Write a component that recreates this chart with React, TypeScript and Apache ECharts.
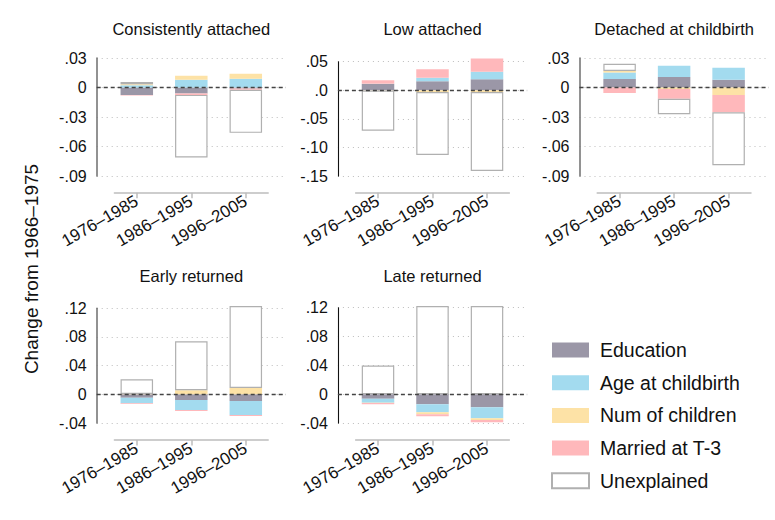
import React, { useEffect, useRef } from 'react';
import * as echarts from 'echarts';

// ---------------- DATA ----------------
const periods = ['1976–1985', '1986–1995', '1996–2005'];
const panelTitles = ['Consistently attached', 'Low attached', 'Detached at childbirth', 'Early returned', 'Late returned'];
const componentNames = ['Education', 'Age at childbirth', 'Num of children', 'Married at T-3', 'Unexplained'];

// values per panel (rows) and period (columns)
const education = [
  [-0.0075, -0.0061, -0.0010],
  [0.0110, 0.0157, 0.0192],
  [0.0086, 0.0108, 0.0078],
  [-0.0047, -0.0079, -0.0093],
  [-0.0065, -0.0139, -0.0180],
];
const ageAtChildbirth = [
  [0.0024, 0.0078, 0.0088],
  [0.0002, 0.0064, 0.0133],
  [0.0066, 0.0112, 0.0122],
  [-0.0079, -0.0140, -0.0195],
  [-0.0055, -0.0111, -0.0153],
];
const numOfChildren = [
  [0.0010, 0.0041, 0.0051],
  [-0.0006, -0.0029, -0.0029],
  [0.0016, -0.0014, -0.0075],
  [0.0005, 0.0056, 0.0088],
  [-0.0002, -0.0027, -0.0027],
];
const marriedAtT3 = [
  [-0.0007, -0.0014, -0.0014],
  [0.0064, 0.0145, 0.0233],
  [-0.0055, -0.0101, -0.0176],
  [-0.0009, -0.0014, -0.0014],
  [-0.0019, -0.0028, -0.0028],
];
const unexplained = [
  [0.0022, -0.0637, -0.0437],
  [-0.0701, -0.1104, -0.1383],
  [0.0073, -0.0156, -0.0539],
  [0.0205, 0.0683, 0.1144],
  [0.0397, 0.1222, 0.1222],
];

// y-axis ticks per panel
const yMin = [-0.09, -0.15, -0.09, -0.04, -0.04];
const yMax = [0.03, 0.05, 0.03, 0.12, 0.12];
const yStep = [0.03, 0.05, 0.03, 0.04, 0.04];
const yTickValues = [
  [-0.09, -0.06, -0.03, 0, 0.03],
  [-0.15, -0.1, -0.05, 0, 0.05],
  [-0.09, -0.06, -0.03, 0, 0.03],
  [-0.04, 0, 0.04, 0.08, 0.12],
  [-0.04, 0, 0.04, 0.08, 0.12],
];
const yTickLabels = [
  ['-.09', '-.06', '-.03', '0', '.03'],
  ['-.15', '-.10', '-.05', '.0', '.05'],
  ['-.09', '-.06', '-.03', '0', '.03'],
  ['-.04', '0', '.04', '.08', '.12'],
  ['-.04', '0', '.04', '.08', '.12'],
];

// ---------------- STYLE / LAYOUT ----------------
const FONT = '"Liberation Sans", Arial, Helvetica, sans-serif';
const seriesColors = ['#9b97a7', '#a3dbef', '#fde2a6', '#ffb8bb', '#ffffff'];
const colCenters = [191.3, 432.5, 674.1];
const UNIT = 54.5; // px per category step
const HALF = 94.6; // half plot width
const XEXT = 22.4; // x axis line extension beyond outer ticks
const panelLayout = [
  { c: 0, top: 58, h: 118, axisY: 192.7, yTitle: 28.6 },
  { c: 1, top: 61.7, h: 114.3, axisY: 192.7, yTitle: 28.6 },
  { c: 2, top: 58, h: 118, axisY: 192.7, yTitle: 28.6 },
  { c: 0, top: 308.3, h: 114.7, axisY: 440, yTitle: 276 },
  { c: 1, top: 307.7, h: 115.3, axisY: 440, yTitle: 276 },
];

const componentData = [education, ageAtChildbirth, numOfChildren, marriedAtT3, unexplained];

function buildOption() {
  const grid: any[] = [];
  const xAxis: any[] = [];
  const yAxis: any[] = [];
  const series: any[] = [];
  const graphic: any[] = [];

  panelLayout.forEach((pl, i) => {
    const cx = colCenters[pl.c];
    // grid A: plot region
    grid.push({ left: cx - HALF, width: HALF * 2, top: pl.top, height: pl.h, outerBoundsMode: 'none', containLabel: false });
    // grid B: x axis strip
    grid.push({ left: cx - UNIT - XEXT, width: 2 * UNIT + 2 * XEXT, top: pl.axisY - 10, height: 10, outerBoundsMode: 'none', containLabel: false });

    xAxis.push({
      gridIndex: 2 * i, type: 'value', min: 2 - HALF / UNIT, max: 2 + HALF / UNIT, show: false,
    });
    xAxis.push({
      gridIndex: 2 * i + 1, type: 'value', min: 1 - XEXT / UNIT, max: 3 + XEXT / UNIT,
      axisLine: { show: true, lineStyle: { color: '#bdbdbd', width: 1.5 } },
      axisTick: { show: true, customValues: [1, 2, 3], length: 5.5, inside: false, lineStyle: { color: '#bdbdbd', width: 1.5 } },
      axisLabel: {
        show: true, customValues: [1, 2, 3], rotate: 30, margin: 7,
        formatter: (v: number) => periods[Math.round(v) - 1] ?? '',
        fontSize: 17, color: '#111', fontFamily: FONT,
      },
      splitLine: { show: false },
    });

    const ticks = yTickValues[i];
    const labels = yTickLabels[i];
    yAxis.push({
      gridIndex: 2 * i, type: 'value', min: yMin[i], max: yMax[i], interval: yStep[i],
      axisLine: { show: true, lineStyle: { color: pl.c === 1 ? '#111' : '#777', width: pl.c === 1 ? 1.1 : 1.6 } },
      axisTick: { show: false },
      axisLabel: {
        show: true, margin: 10, fontSize: 16, color: '#111', fontFamily: FONT,
        formatter: (v: number) => {
          const idx = ticks.findIndex((t) => Math.abs(t - v) < 1e-9);
          return idx >= 0 ? labels[idx] : '';
        },
      },
      splitLine: { show: true, lineStyle: { type: [1, 4], color: '#bdbdbd', width: 1.2 } },
    });
    yAxis.push({ gridIndex: 2 * i + 1, type: 'value', min: 0, max: 1, show: false });

    componentData.forEach((arr, k) => {
      const s: any = {
        type: 'bar',
        name: componentNames[k],
        xAxisIndex: 2 * i,
        yAxisIndex: 2 * i,
        stack: 'panel' + i,
        barWidth: 32.5,
        clip: false,
        silent: true,
        // column 0 = value (stacked), column 1 = period position
        dimensions: ['val', 'pos'],
        encode: { x: 1, y: 0 },
        data: arr[i].map((v, j) => [v, j + 1]),
        itemStyle: k === 4
          ? { color: '#ffffff', borderColor: '#b0b0b0', borderWidth: 1.2 }
          : { color: seriesColors[k], borderWidth: 0 },
        emphasis: { disabled: true },
      };
      if (k === 4) {
        s.markLine = {
          silent: true,
          symbol: ['none', 'none'],
          label: { show: false },
          lineStyle: { type: [4, 3], color: '#444', width: 1.3 },
          emphasis: { disabled: true },
          data: [{ yAxis: 0 }],
        };
      }
      series.push(s);
    });

    graphic.push({
      type: 'text', x: cx, y: pl.yTitle, silent: true,
      style: {
        text: panelTitles[i], fontSize: 16.5, fontFamily: FONT, fill: '#111',
        align: 'center', verticalAlign: 'middle', textAlign: 'center', textVerticalAlign: 'middle',
      },
    });
  });

  graphic.push({
    type: 'text', x: 31, y: 269, rotation: Math.PI / 2, silent: true,
    style: {
      text: 'Change from 1966–1975', fontSize: 19, fontFamily: FONT, fill: '#111',
      align: 'center', verticalAlign: 'middle', textAlign: 'center', textVerticalAlign: 'middle',
    },
  });

  return {
    animation: false,
    backgroundColor: '#ffffff',
    textStyle: { fontFamily: FONT },
    grid, xAxis, yAxis, series, graphic,
    legend: {
      data: componentNames,
      orient: 'vertical',
      left: 551,
      top: 340,
      padding: 0,
      itemWidth: 37,
      itemHeight: 15,
      itemGap: 12.7,
      icon: 'rect',
      selectedMode: false,
      textStyle: { fontSize: 19.5, color: '#111', fontFamily: FONT, padding: [0, 0, 0, 6] },
    },
  };
}

export default function App() {
  const ref = useRef<HTMLDivElement>(null);
  useEffect(() => {
    if (!ref.current) return;
    const chart = echarts.init(ref.current, null, { renderer: 'svg' });
    chart.setOption(buildOption() as any);
    return () => chart.dispose();
  }, []);
  return (
    <div
      ref={ref}
      style={{ position: 'absolute', left: 0, top: 0, width: 775, height: 520, background: '#fff' }}
    />
  );
}
